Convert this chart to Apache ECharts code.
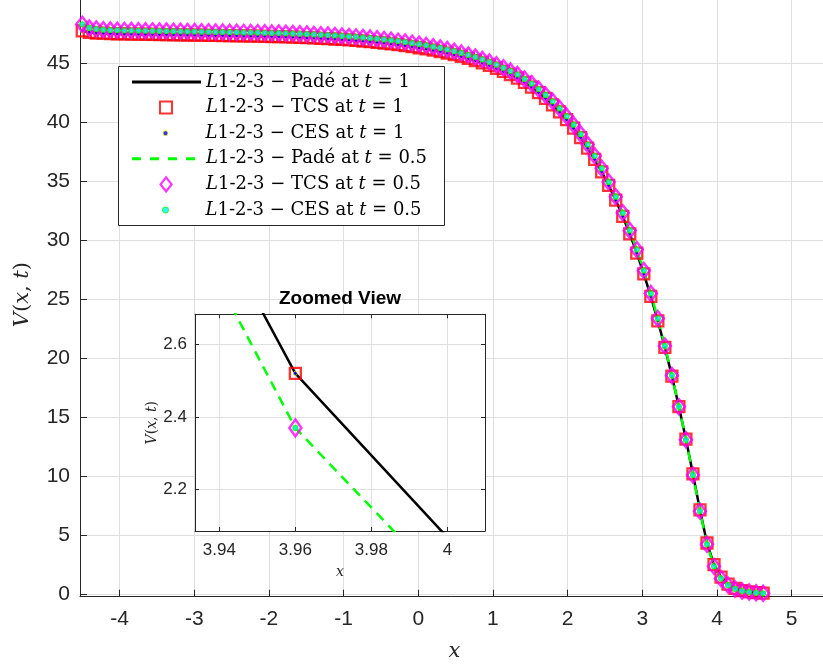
<!DOCTYPE html>
<html><head><meta charset="utf-8">
<script src="https://cdn.jsdelivr.net/npm/echarts@6/dist/echarts.min.js"></script>
<style>html,body{margin:0;padding:0;background:#fff}#chart{width:823px;height:664px}</style>
</head><body><div id="chart"></div>
<script>
// ---------- data ----------
const xValues = [
-4.500,-4.406,-4.312,-4.218,-4.124,-4.030,-3.936,-3.842,-3.748,-3.654,
-3.560,-3.466,-3.372,-3.278,-3.184,-3.090,-2.996,-2.902,-2.808,-2.714,
-2.620,-2.526,-2.432,-2.338,-2.244,-2.150,-2.056,-1.962,-1.868,-1.774,
-1.680,-1.586,-1.492,-1.398,-1.304,-1.210,-1.116,-1.022,-0.928,-0.834,
-0.740,-0.646,-0.552,-0.458,-0.364,-0.270,-0.176,-0.082,0.012,0.106,
0.200,0.294,0.388,0.482,0.576,0.670,0.764,0.858,0.952,1.046,
1.140,1.234,1.328,1.422,1.516,1.610,1.704,1.798,1.892,1.986,
2.080,2.174,2.268,2.362,2.456,2.550,2.644,2.738,2.832,2.926,
3.020,3.114,3.208,3.302,3.396,3.490,3.584,3.678,3.772,3.866,
3.960,4.054,4.148,4.242,4.336,4.430,4.524,4.618];

// V(x,t) at t = 1 (Padé, TCS and CES coincide)
const vAtT1 = [
47.75,47.62,47.56,47.55,47.52,47.50,47.49,47.48,47.47,47.46,
47.45,47.44,47.43,47.42,47.41,47.40,47.39,47.38,47.37,47.36,
47.35,47.34,47.33,47.32,47.31,47.30,47.29,47.27,47.26,47.24,
47.22,47.20,47.18,47.15,47.12,47.09,47.06,47.02,46.98,46.94,
46.89,46.84,46.78,46.72,46.65,46.58,46.50,46.41,46.32,46.22,
46.11,46.00,45.87,45.73,45.58,45.41,45.23,45.03,44.82,44.58,
44.32,44.05,43.75,43.38,42.98,42.52,42.02,41.48,40.88,40.22,
39.50,38.70,37.82,36.86,35.80,34.65,33.40,32.03,30.54,28.92,
27.15,25.25,23.18,20.93,18.50,15.90,13.15,10.20,7.15,4.35,
2.52,1.46,0.86,0.51,0.32,0.21,0.14,0.10];

// V(x,t) at t = 0.5
const vAtT05 = [
48.30,48.00,47.90,47.85,47.82,47.80,47.79,47.78,47.77,47.76,
47.75,47.74,47.73,47.72,47.71,47.70,47.69,47.68,47.67,47.66,
47.65,47.64,47.63,47.62,47.61,47.60,47.59,47.57,47.56,47.54,
47.52,47.50,47.48,47.45,47.42,47.39,47.36,47.32,47.28,47.24,
47.19,47.14,47.08,47.02,46.95,46.88,46.80,46.71,46.62,46.52,
46.41,46.30,46.17,46.03,45.88,45.71,45.53,45.33,45.12,44.88,
44.62,44.35,44.05,43.68,43.28,42.82,42.32,41.78,41.18,40.52,
39.80,39.00,38.12,37.16,36.10,34.95,33.70,32.33,30.84,29.22,
27.45,25.50,23.38,21.05,18.55,15.90,13.10,10.12,7.05,4.24,
2.37,1.34,0.78,0.46,0.29,0.19,0.13,0.09];

const xTicks = [-4,-3,-2,-1,0,1,2,3,4,5];
const yTicks = [0,5,10,15,20,25,30,35,40,45];
const insetXTicks = [3.94,3.96,3.98,4];
const insetYTicks = [2.2,2.4,2.6];

const seriesNames = [
  'L1-2-3 − Padé at t = 1',
  'L1-2-3 − TCS at t = 1',
  'L1-2-3 − CES at t = 1',
  'L1-2-3 − Padé at t = 0.5',
  'L1-2-3 − TCS at t = 0.5',
  'L1-2-3 − CES at t = 0.5'
];
const insetTitle = 'Zoomed View';

// ---------- chart ----------
const chart = echarts.init(document.getElementById('chart'), null, {renderer: 'canvas'});
const pairs = ys => xValues.map((x, i) => [x, ys[i]]);

const AX = '#262626', GRIDC = '#dfdfdf';
const tickFont = 'Liberation Sans';
const serif = 'DejaVu Serif';
const richItalic = (size) => ({ i: { fontStyle: 'italic', fontFamily: serif, fontSize: size, color: AX } });

function styles(inset) {
  return [
    { type: 'line', symbol: 'none', lineStyle: { color: '#000000', width: 2.5 }, itemStyle: { color: '#000000' } },
    { type: 'scatter', symbol: 'rect', symbolSize: 11,
      itemStyle: { color: 'rgba(0,0,0,0)', borderColor: '#ff0000', borderWidth: 2.3 } },
    { type: 'scatter', symbol: 'circle', symbolSize: 4,
      itemStyle: { color: '#0000ff', borderColor: '#ffff00', borderWidth: 0.8 } },
    { type: 'line', symbol: 'none', lineStyle: { color: '#00ff00', width: 2.5, type: [10, 7] }, itemStyle: { color: '#00ff00' } },
    { type: 'scatter', symbol: 'diamond', symbolSize: inset ? [12, 17] : [12, 15],
      itemStyle: { color: 'rgba(0,0,0,0)', borderColor: '#ff00ff', borderWidth: 2.5 } },
    { type: 'scatter', symbol: 'circle', symbolSize: 5,
      itemStyle: { color: '#00ffff', borderColor: '#00ff00', borderWidth: 1.2 } }
  ];
}
const dataSets = [vAtT1, vAtT1, vAtT1, vAtT05, vAtT05, vAtT05];

const series = [];
styles(false).forEach((s, i) => series.push(Object.assign({
  name: seriesNames[i], xAxisIndex: 0, yAxisIndex: 0, data: pairs(dataSets[i]),
  clip: true, z: 2, animation: false, silent: true
}, s)));
styles(true).forEach((s, i) => series.push(Object.assign({
  name: 'inset ' + seriesNames[i], xAxisIndex: 1, yAxisIndex: 1, data: pairs(dataSets[i]),
  clip: true, z: 7, animation: false, silent: true
}, s)));

// legend: one row per legend so each icon can have its own size
const rowCenters = [82, 107.6, 133.2, 158.8, 184.4, 210];
const hiddenSymbol = { color: 'rgba(0,0,0,0)', borderColor: 'rgba(0,0,0,0)', borderWidth: 0, opacity: 0 };
const legendIcons = [
  { left: 130.5, w: 69, h: 14, pad: 0, lineStyle: { color: '#000', width: 3, type: 'solid' }, itemStyle: hiddenSymbol },
  { left: 159, w: 12, h: 12, pad: 29, itemStyle: { color: 'rgba(0,0,0,0)', borderColor: '#ff0000', borderWidth: 2 } },
  { left: 162.5, w: 5, h: 5, pad: 32.5, itemStyle: { color: '#0000ff', borderColor: '#ffff00', borderWidth: 1 } },
  { left: 130.5, w: 69, h: 14, pad: 0, lineStyle: { color: '#00ff00', width: 3, type: [9, 9] }, itemStyle: hiddenSymbol },
  { left: 159.5, w: 11, h: 14, pad: 29.5, itemStyle: { color: 'rgba(0,0,0,0)', borderColor: '#ff00ff', borderWidth: 2.2 } },
  { left: 162, w: 6, h: 6, pad: 32, itemStyle: { color: '#00ffff', borderColor: '#00ff00', borderWidth: 1 } }
];
const legends = seriesNames.map((name, i) => {
  const ic = legendIcons[i];
  const lg = {
    data: [name], orient: 'vertical', left: ic.left, top: rowCenters[i] - 10,
    itemWidth: ic.w, itemHeight: ic.h, padding: 0, selectedMode: false, z: 4,
    formatter: n => n.replace(/^L/, '{i|L}').replace(' t = ', ' {i|t} = '),
    textStyle: {
      fontFamily: serif, fontSize: 18, color: '#000', lineHeight: 20,
      padding: [0, 0, 0, ic.pad],
      rich: { i: { fontStyle: 'italic', fontFamily: serif, fontSize: 18, color: '#000', lineHeight: 20 } }
    }
  };
  if (ic.lineStyle) lg.lineStyle = ic.lineStyle;
  if (ic.itemStyle) lg.itemStyle = ic.itemStyle;
  return lg;
});

function valueAxis(o) {
  return Object.assign({
    type: 'value',
    axisLine: { show: true, onZero: false, lineStyle: { color: AX, width: 1 } },
    splitLine: { show: true, lineStyle: { color: GRIDC, width: 1 } }
  }, o);
}

const option = {
  animation: false,
  backgroundColor: '#ffffff',
  grid: [
    { left: 80, top: -7.5, width: 749, height: 604.2, show: false, containLabel: false, outerBoundsMode: 'none' },
    { left: 195, top: 314.3, width: 290, height: 216.7, show: true, backgroundColor: '#ffffff', borderWidth: 0, z: 5,
      containLabel: false, outerBoundsMode: 'none' }
  ],
  xAxis: [
    valueAxis({ gridIndex: 0, min: -4.53, max: 5.5,
      axisTick: { inside: true, length: 7, customValues: xTicks, lineStyle: { color: AX } },
      axisLabel: { customValues: xTicks, fontSize: 21, fontFamily: tickFont, color: AX, margin: 12 },
      name: '{i|x}', nameLocation: 'middle', nameGap: 44,
      nameTextStyle: { fontFamily: serif, fontSize: 21, color: AX, rich: richItalic(21) } }),
    valueAxis({ gridIndex: 1, min: 3.9336, max: 4.0099, z: 6,
      axisTick: { inside: true, length: 4, customValues: insetXTicks, lineStyle: { color: AX } },
      axisLabel: { customValues: insetXTicks, fontSize: 17, fontFamily: tickFont, color: AX, margin: 11 },
      name: '{i|x}', nameLocation: 'middle', nameGap: 34,
      nameTextStyle: { fontFamily: serif, fontSize: 14, color: AX, rich: richItalic(14) } }),
    valueAxis({ gridIndex: 1, position: 'top', min: 3.9336, max: 4.0099, z: 6,
      axisTick: { inside: true, length: 4, customValues: insetXTicks, lineStyle: { color: AX } },
      axisLabel: { show: false }, splitLine: { show: false } })
  ],
  yAxis: [
    valueAxis({ gridIndex: 0, min: -0.2, max: 51,
      axisTick: { inside: true, length: 7, customValues: yTicks, lineStyle: { color: AX } },
      axisLabel: { customValues: yTicks, fontSize: 21, fontFamily: tickFont, color: AX, margin: 10 },
      name: '{i|V}({i|x}, {i|t})', nameLocation: 'middle', nameGap: 47, nameRotate: 90,
      nameTextStyle: { fontFamily: serif, fontSize: 21, color: AX, rich: richItalic(21) } }),
    valueAxis({ gridIndex: 1, min: 2.0864, max: 2.6826, z: 6,
      axisTick: { inside: true, length: 4, customValues: insetYTicks, lineStyle: { color: AX } },
      axisLabel: { customValues: insetYTicks, fontSize: 17, fontFamily: tickFont, color: AX, margin: 8 },
      name: '{i|V}({i|x}, {i|t})', nameLocation: 'middle', nameGap: 26, nameRotate: 90,
      nameTextStyle: { fontFamily: serif, fontSize: 14, color: AX, rich: richItalic(14) } }),
    valueAxis({ gridIndex: 1, position: 'right', min: 2.0864, max: 2.6826, z: 6,
      axisTick: { inside: true, length: 4, customValues: insetYTicks, lineStyle: { color: AX } },
      axisLabel: { show: false }, splitLine: { show: false } })
  ],
  legend: legends,
  graphic: [
    { type: 'rect', z: 3, silent: true, shape: { x: 118.5, y: 66.5, width: 326, height: 159 },
      style: { fill: '#ffffff', stroke: AX, lineWidth: 1 } },
    { type: 'text', z: 10, silent: true, x: 340, y: 299,
      style: { text: insetTitle, font: 'bold 19px "Liberation Sans"', fill: '#000000', align: 'center', verticalAlign: 'middle' } }
  ],
  series: series
};
chart.setOption(option);
</script>
</body></html>
